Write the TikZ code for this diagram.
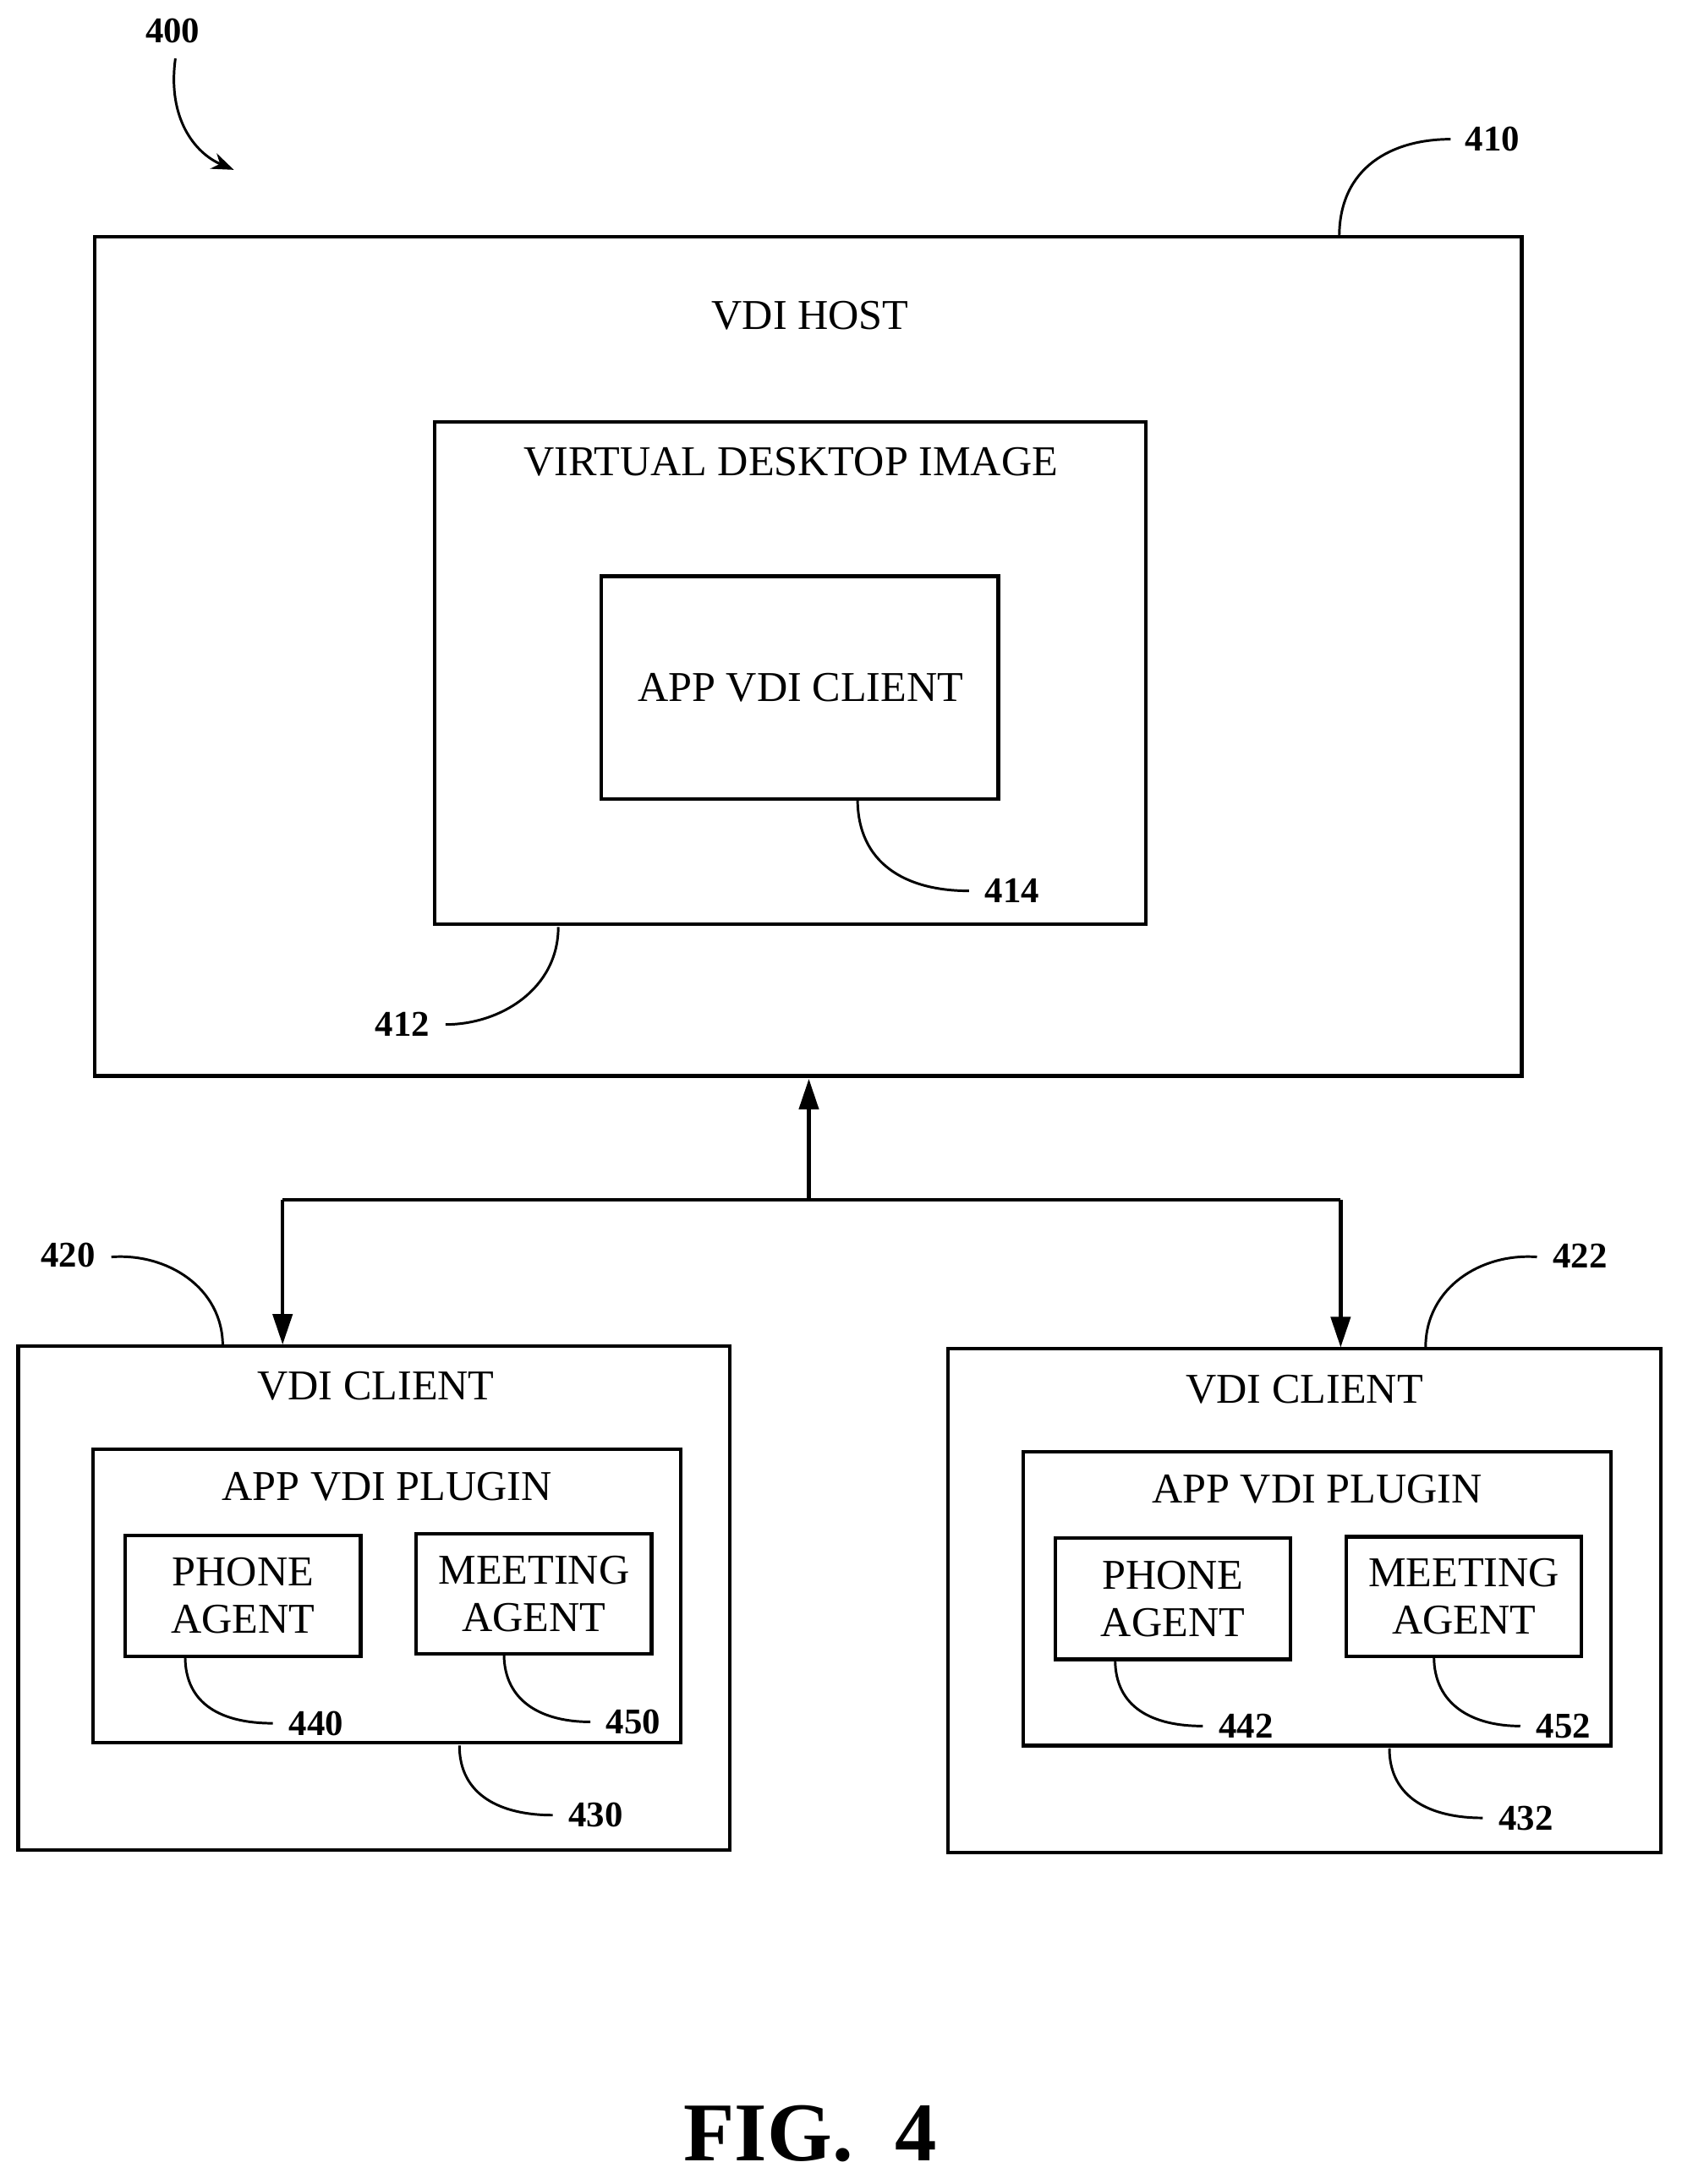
\documentclass[tikz,border=0pt]{standalone}
\usepackage{fontspec}
\setmainfont{Liberation Serif}
\usetikzlibrary{arrows.meta}
\begin{document}
\begin{tikzpicture}[x=1pt,y=-1pt,line width=2.6pt,
 box/.style={draw,line width=2.6pt},
 txt/.style={font=\fontsize{30.5}{34}\selectfont,align=center},
 txt2/.style={font=\fontsize{30.5}{34}\selectfont,align=center},
 lab/.style={font=\fontsize{26}{30}\selectfont\bfseries},
 lead/.style={line width=1.8pt},
 arr/.style={-{Triangle[length=22pt,width=14pt]}}]
\useasboundingbox (0,0) rectangle (1208,1569);
% host
\draw[box] (68,170) rectangle (1093,773);
\node[txt] (host) at (582,227) {VDI HOST};
\draw[box] (312,303) rectangle (823,664);
\node[txt] (vdi) at (568,332) {VIRTUAL DESKTOP IMAGE};
\draw[box] (432,414) rectangle (717,574);
\node[txt] (app) at (575,494) {APP VDI CLIENT};
% labels
\node[lab] (l400) at (124,22) {400};
\draw[lead,-{Stealth[length=16pt,width=12pt]}] (126,42) .. controls (120,85) and (140,110) .. (168,122);
\node[lab] (l410) at (1072,100) {410};
\draw[lead] (962,170) .. controls (962,120) and (1000,100) .. (1042,100);
\node[lab] (l412) at (289,736) {412};
\draw[lead] (401,666) .. controls (401,710) and (360,736) .. (320,736);
\node[lab] (l414) at (727,640) {414};
\draw[lead] (616,574) .. controls (616,620) and (650,640) .. (696,640);
% connectors
\coordinate (j) at (581,862);
\draw[arr] (j) -- (581,775);
\draw (203,862) -- (963,862);
\draw[arr] (203,862) -- (203,966);
\draw[arr] (963,862) -- (963,968);
% client left
\draw[box] (13,967) rectangle (524,1329);
\node[txt] at (270,996) {VDI CLIENT};
\draw[box] (67,1041) rectangle (489,1252);
\node[txt] at (278,1068) {APP VDI PLUGIN};
\draw[box] (90,1103) rectangle (259,1190);
\node[txt2] at (174.5,1146.5) {PHONE\\AGENT};
\draw[box] (299,1102) rectangle (468,1188);
\node[txt2] at (383.5,1145) {MEETING\\AGENT};
\node[lab] at (227,1238) {440};
\draw[lead] (133,1190) .. controls (133,1225) and (160,1238) .. (196,1238);
\node[lab] at (455,1237) {450};
\draw[lead] (362,1188) .. controls (362,1223) and (390,1237) .. (424,1237);
\node[lab] at (428,1304) {430};
\draw[lead] (330,1254) .. controls (330,1290) and (360,1304) .. (397,1304);
\node[lab] at (49,902) {420};
\draw[lead] (80,903) .. controls (120,900) and (160,925) .. (160,967);
% client right
\draw[box] (681,969) rectangle (1193,1331);
\node[txt] at (937,998) {VDI CLIENT};
\draw[box] (735,1043) rectangle (1157,1254);
\node[txt] at (946,1070) {APP VDI PLUGIN};
\draw[box] (758,1105) rectangle (927,1192);
\node[txt2] at (842.5,1148.5) {PHONE\\AGENT};
\draw[box] (967,1104) rectangle (1136,1190);
\node[txt2] at (1051.5,1147) {MEETING\\AGENT};
\node[lab] at (895,1240) {442};
\draw[lead] (801,1192) .. controls (801,1227) and (828,1240) .. (864,1240);
\node[lab] at (1123,1240) {452};
\draw[lead] (1030,1190) .. controls (1030,1225) and (1058,1240) .. (1092,1240);
\node[lab] at (1096,1306) {432};
\draw[lead] (998,1256) .. controls (998,1292) and (1028,1306) .. (1065,1306);
\node[lab] at (1135,902) {422};
\draw[lead] (1104,903) .. controls (1064,900) and (1024,925) .. (1024,968);
\node[font=\fontsize{60}{64}\selectfont\bfseries] at (582,1533) {FIG.~~4};
\end{tikzpicture}
\end{document}
